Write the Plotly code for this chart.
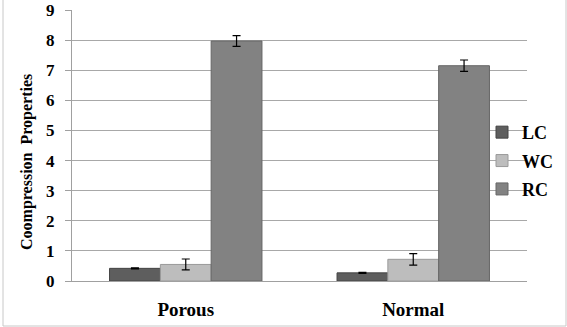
import plotly.graph_objects as go

categories = ["Porous", "Normal"]
series_names = ["LC", "WC", "RC"]
lc_values = [0.42, 0.27]
wc_values = [0.55, 0.72]
rc_values = [7.97, 7.15]
lc_err = [0.02, 0.02]
wc_err = [0.18, 0.19]
rc_err = [0.18, 0.19]
y_ticks = [0, 1, 2, 3, 4, 5, 6, 7, 8, 9]
y_title = "Coompression  Properties"

colors = ["#5e5e5e", "#bdbdbd", "#828282"]
line_colors = ["#444444", "#9a9a9a", "#666666"]
values = [lc_values, wc_values, rc_values]
errors = [lc_err, wc_err, rc_err]

FONT = "Liberation Serif"
PW, PH = 455, 271

fig = go.Figure()
for i, name in enumerate(series_names):
    fig.add_trace(go.Bar(
        x=categories, y=values[i], name=name,
        marker=dict(color=colors[i], line=dict(color=line_colors[i], width=1)),
        error_y=dict(type="data", array=errors[i], visible=True,
                     color="black", thickness=1.2, width=4),
        legendgroup=name,
    ))

fig.update_layout(
    width=567, height=327,
    margin=dict(l=72, r=40, t=10, b=46, autoexpand=False),
    paper_bgcolor="white", plot_bgcolor="white",
    barmode="group", bargap=0.33, bargroupgap=0,
    font=dict(family=FONT, color="black"),
    showlegend=True,
    legend=dict(x=(482 - 72) / PW, y=0.443, xanchor="left", yanchor="middle",
                bgcolor="rgba(0,0,0,0)", tracegroupgap=2,
                font=dict(family=FONT, size=18, color="black", weight="bold"),
                itemwidth=30),
    xaxis=dict(
        automargin=False,
        showline=True, linecolor="#a0a0a0", linewidth=1,
        tickfont=dict(family=FONT, size=19, color="black", weight="bold"),
        ticks="", showgrid=False, ticklabelstandoff=11,
    ),
    yaxis=dict(
        automargin=False,
        range=[0, 9], tickvals=y_ticks,
        showline=True, linecolor="#a0a0a0", linewidth=1,
        ticks="outside", ticklen=6, tickcolor="#a0a0a0",
        showgrid=True, gridcolor="#a8a8a8", gridwidth=1,
        tickfont=dict(family=FONT, size=17, color="black", weight="bold"),
        ticklabelstandoff=7,
        zeroline=False,
    ),
)
fig.add_annotation(text=y_title, textangle=-90, showarrow=False,
                   xref="paper", yref="paper",
                   x=(27 - 72) / PW, y=1 - (162 - 10) / PH,
                   xanchor="center", yanchor="middle",
                   font=dict(family=FONT, size=16, color="black", weight="bold"))
fig.add_shape(type="rect", xref="paper", yref="paper",
              x0=-69 / PW, x1=1 + 39 / PW, y0=-45 / PH, y1=1.2,
              line=dict(color="#c8c8c8", width=1), fillcolor="rgba(0,0,0,0)")

fig.write_html("out.html", config={"displayModeBar": False},
               post_script="document.body.style.margin='0';")
